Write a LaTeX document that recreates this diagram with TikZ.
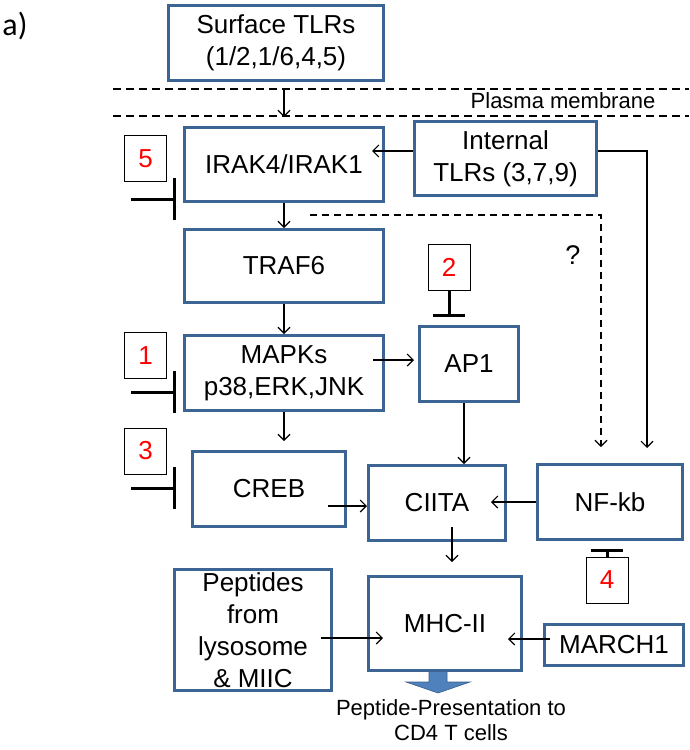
\documentclass[tikz,border=0pt]{standalone}
\usepackage{fontspec}
\setmainfont{Liberation Sans}
\newfontfamily\calfont{Carlito}
\usetikzlibrary{arrows.meta}
\definecolor{boxblue}{HTML}{3D6594}
\definecolor{blockfill}{HTML}{4F81BD}
\definecolor{blockdraw}{HTML}{385D8A}
\begin{document}
\begin{tikzpicture}[x=1pt,y=-1pt,
  box/.style={draw=boxblue, line width=3pt, fill=white, inner sep=0pt, align=center,
    font=\fontsize{26}{32}\selectfont},
  numbox/.style={draw=black, line width=0.8pt, fill=white, inner sep=0pt,
    minimum width=42pt, minimum height=46pt, text=red, font=\fontsize{26}{30}\selectfont},
  arr/.style={line width=1.1pt, -{Straight Barb[length=6pt,width=12pt]}},
  darr/.style={arr, dash pattern=on 7pt off 5pt},
  inh/.style={line width=3pt, -{Bar[width=42pt]}},
  inhs/.style={line width=3pt, -{Bar[width=32pt]}},
  mem/.style={line width=1.1pt, dash pattern=on 8pt off 5pt},
  lbl/.style={inner sep=0pt, align=center}]
\useasboundingbox (0,0) rectangle (689,750);

% membrane
\draw[mem] (113,89) -- (689,89);
\draw[mem] (113,116) -- (689,116);
\node[lbl, font=\fontsize{22}{26}\selectfont] (pm) at (563,101) {Plasma membrane};
\node[lbl, font=\calfont\fontsize{32}{36}\selectfont] (alabel) at (15,26) {a)};
\node[lbl, font=\fontsize{27}{30}\selectfont] (qm) at (573,255) {?};

% block arrow
\fill[blockfill, draw=blockdraw, line width=0.6pt] (429,671) -- (447,671) -- (447,682) -- (470,682) -- (438,693) -- (406,682) -- (429,682) -- cycle;

% boxes
\node[box, minimum width=215pt, minimum height=75pt] (surface) at (276,43) {Surface TLRs\\(1/2,1/6,4,5)};
\node[box, minimum width=199pt, minimum height=74pt] (irak) at (284,164.5) {IRAK4/IRAK1};
\node[box, minimum width=182pt, minimum height=74pt] (internal) at (505.5,158.5) {Internal\\TLRs (3,7,9)};
\node[box, minimum width=199pt, minimum height=73pt] (traf6) at (284,266) {TRAF6};
\node[box, minimum width=199pt, minimum height=75pt] (mapks) at (284,373) {MAPKs\\p38,ERK,JNK};
\node[box, minimum width=99pt, minimum height=75pt] (ap1) at (469,364) {AP1};
\node[box, minimum width=153pt, minimum height=75pt] (creb) at (269,489) {CREB};
\node[box, minimum width=137pt, minimum height=75pt] (ciita) at (437,503) {CIITA};
\node[box, minimum width=145pt, minimum height=75pt] (nfkb) at (610,502) {NF-kb};
\node[box, minimum width=157pt, minimum height=121pt] (peptides) at (253,630) {Peptides\\from\\lysosome\\\& MIIC};
\node[box, minimum width=153pt, minimum height=94pt] (mhc) at (445,623.5) {MHC-II};
\node[box, minimum width=139pt, minimum height=41pt] (march1) at (614,645) {MARCH1};

\node[lbl, font=\fontsize{22}{25}\selectfont] (pres) at (451,720.5) {Peptide-Presentation to\\CD4 T cells};

% number boxes
\node[numbox] (n5) at (145.5,158.5) {5};
\node[numbox] (n1) at (145.5,355.5) {1};
\node[numbox] (n3) at (145.5,451) {3};
\node[numbox] (n2) at (449,267.5) {2};
\node[numbox] (n4) at (607,580) {4};

% connectors
\draw[arr, shorten <=7pt, shorten >=9pt] (irak.north |- surface.south) -- (irak.north);
\draw[arr, shorten >=-13pt] ([yshift=7.5pt]internal.west) -- ([yshift=7.5pt]internal.west -| irak.east);
\draw[arr, shorten >=15pt] ([yshift=7.5pt]internal.east) -| ([xshift=37pt]nfkb.north);
\draw[arr] (irak.south) -- (traf6.north);
\draw[arr] (traf6.south) -- (mapks.north);
\draw[arr, shorten <=-12pt, shorten >=4pt] ([yshift=13pt]mapks.east) -- ([yshift=13pt]mapks.east -| ap1.west);
\draw[arr, shorten >=9pt] (mapks.south) -- (mapks.south |- creb.north);
\draw[arr] ([xshift=-5pt]ap1.south) -- ([xshift=-5pt]ap1.south |- ciita.north);
\draw[arr, shorten <=-19pt] ([yshift=-17pt]creb.east) -- ([yshift=-17pt]creb.east -| ciita.west);
\draw[arr, shorten >=-16pt] (nfkb.west) -- (nfkb.west -| ciita.east);
\draw[arr, shorten <=-15pt, shorten >=13pt] ([xshift=15pt]ciita.south) -- ([xshift=15pt]ciita.south |- mhc.north);
\draw[arr, shorten <=-12pt, shorten >=-16pt] ([yshift=-8pt]peptides.east) -- ([yshift=-8pt]peptides.east -| mhc.west);
\draw[arr, shorten <=-7pt, shorten >=-15pt] ([yshift=6pt]march1.west) -- ([yshift=6pt]march1.west -| mhc.east);

\coordinate (q0) at (310,215);
\draw[darr, shorten >=16pt] (q0) -| ([xshift=-9pt]nfkb.north);

% inhibitors
\coordinate (i5) at (131,199);
\coordinate (i1) at (131,392);
\coordinate (i3) at (131,488);
\draw[inh, shorten >=7pt] (i5) -- (i5 -| irak.west);
\draw[inh, shorten >=7pt] (i1) -- (i1 -| mapks.west);
\draw[inh, shorten >=15pt] (i3) -- (i3 -| creb.west);
\draw[inhs, shorten >=8pt] (n2.south) -- (n2.south |- ap1.north);
\draw[inhs, shorten >=8pt] (n4.north) -- (n4.north |- nfkb.south);
\end{tikzpicture}
\end{document}
